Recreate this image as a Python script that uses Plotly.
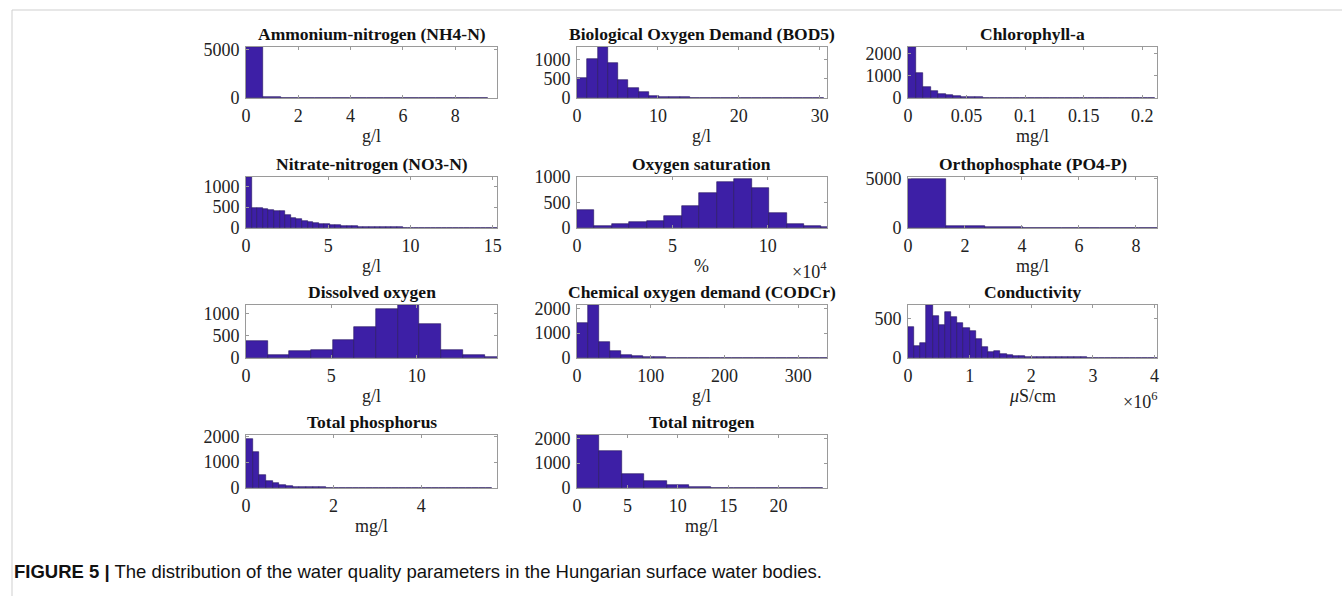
import plotly.graph_objects as go

W, H = 1342, 596

titles = ["Ammonium-nitrogen (NH4-N)", "Biological Oxygen Demand (BOD5)", "Chlorophyll-a",
          "Nitrate-nitrogen (NO3-N)", "Oxygen saturation", "Orthophosphate (PO4-P)",
          "Dissolved oxygen", "Chemical oxygen demand (CODCr)", "Conductivity",
          "Total phosphorus", "Total nitrogen"]
xlabels = ["g/l", "g/l", "mg/l", "g/l", "%", "mg/l", "g/l", "g/l", "<i>μ</i>S/cm", "mg/l", "mg/l"]
x_multipliers = [None, None, None, None, "×10<sup>4</sup>", None, None, None, "×10<sup>6</sup>", None, None]

bin_widths = [0.66, 1.27, 0.0064, 0.34, 0.915, 1.35, 1.27, 15, 0.1, 0.152, 2.22]

counts_nh4 = [5300, 140, 45, 20, 10, 6, 4, 3, 2, 2, 1, 1, 1, 1]
counts_bod5 = [517, 1034, 1336, 922, 474, 267, 147, 60, 35, 22, 15, 10, 6, 4, 3, 2, 2, 1, 1, 1, 0, 0, 0, 1]
counts_chla = [2313, 1150, 490, 330, 195, 120, 80, 55, 40, 30, 22, 15, 10, 8, 6, 5, 3, 2, 2, 1, 1, 1, 1, 0, 0, 1,
               0, 0, 0, 0, 0, 0, 1]
counts_no3 = [1220, 480, 475, 445, 420, 400, 405, 300, 250, 210, 175, 150, 120, 100, 90, 75, 65, 55, 48, 42,
              35, 30, 27, 24, 20, 17, 15, 13, 11, 10, 9, 8, 7, 6, 5, 4, 4, 3, 3, 2, 2, 2, 1, 1, 1]
counts_o2sat = [357, 45, 78, 110, 143, 240, 435, 682, 896, 955, 779, 292, 78, 32, 19]
counts_po4 = [4950, 180, 60, 20, 5, 3, 2]
counts_do = [385, 74, 148, 185, 407, 703, 1096, 1185, 755, 170, 74, 22]
counts_cod = [1400, 2130, 640, 267, 133, 67, 40, 25, 15, 10, 8, 5, 3, 2, 1, 1, 1, 0, 0, 0, 1, 0, 0]
counts_cond = [397, 158, 184, 671, 534, 419, 577, 513, 449, 376, 342, 235, 137, 73, 85, 47, 34, 25, 20, 18,
               15, 15, 12, 18, 10, 8, 8, 10, 8, 6, 5, 5, 4, 4, 3, 3, 3, 2, 2, 2, 1]
counts_tp = [1890, 1410, 520, 290, 180, 100, 70, 50, 40, 30, 25, 20, 15, 12, 10, 8, 7, 6, 5, 4, 3, 3, 2, 2, 2,
             1, 1, 1, 1, 1, 0, 0, 0, 0, 0, 0, 1]
counts_tn = [2130, 1507, 560, 293, 133, 60, 20, 15, 5, 3, 2]

all_counts = [counts_nh4, counts_bod5, counts_chla, counts_no3, counts_o2sat, counts_po4,
              counts_do, counts_cod, counts_cond, counts_tp, counts_tn]

x_max = [9.6, 30.9, 0.2125, 15.26, 13.1, 8.74, 14.7, 339, 4.04, 5.73, 24.8]
y_max = [5300, 1336, 2313, 1220, 1000, 5200, 1185, 2130, 671, 2050, 2130]

x_ticks = [[0, 2, 4, 6, 8], [0, 10, 20, 30], [0, 0.05, 0.1, 0.15, 0.2], [0, 5, 10, 15], [0, 5, 10],
           [0, 2, 4, 6, 8], [0, 5, 10], [0, 100, 200, 300], [0, 1, 2, 3, 4], [0, 2, 4], [0, 5, 10, 15, 20]]
x_ticktext = [None, None, ["0", "0.05", "0.1", "0.15", "0.2"], None, None, None, None, None, None, None, None]
y_ticks = [[0, 5000], [0, 500, 1000], [0, 1000, 2000], [0, 500, 1000], [0, 500, 1000], [0, 5000],
           [0, 500, 1000], [0, 1000, 2000], [0, 500], [0, 1000, 2000], [0, 1000, 2000]]

cols_px = [(246, 497), (577, 827), (908, 1157)]
rows_px = [(47, 98), (177, 228), (305, 358), (435, 488)]

BAR = "#3D1FA6"
EDGE = "#24145e"
AXC = "#9a9a9a"
SERIF = "Liberation Serif, Times New Roman, serif"
TICKSIZE = 18

fig = go.Figure()
annotations = []
layout_axes = {}

for i in range(11):
    r, c = divmod(i, 3)
    x0, x1 = cols_px[c]
    y0, y1 = rows_px[r]
    w = bin_widths[i]
    cnt = all_counts[i]
    centers = [w * (k + 0.5) for k in range(len(cnt))]
    n = i + 1
    xa = "x" if n == 1 else f"x{n}"
    ya = "y" if n == 1 else f"y{n}"
    fig.add_trace(go.Bar(x=centers, y=cnt, width=w, xaxis=xa, yaxis=ya,
                         marker=dict(color=BAR, line=dict(color=EDGE, width=0.6)),
                         showlegend=False))
    xkey = "xaxis" if n == 1 else f"xaxis{n}"
    ykey = "yaxis" if n == 1 else f"yaxis{n}"
    xd = dict(domain=[x0 / W, x1 / W], anchor=ya, range=[0, x_max[i]], automargin=False,
              tickmode="array", tickvals=x_ticks[i],
              showline=True, linecolor=AXC, linewidth=1, mirror="allticks",
              ticks="inside", ticklen=3, tickcolor=AXC, showgrid=False, zeroline=False,
              tickfont=dict(family=SERIF, size=TICKSIZE, color="#222"), ticklabelstandoff=1)
    if x_ticktext[i]:
        xd["ticktext"] = x_ticktext[i]
    yd = dict(domain=[1 - y1 / H, 1 - y0 / H], anchor=xa, range=[0, y_max[i]], automargin=False,
              tickmode="array", tickvals=y_ticks[i],
              showline=True, linecolor=AXC, linewidth=1, mirror="allticks",
              ticks="inside", ticklen=3, tickcolor=AXC, showgrid=False, zeroline=False,
              tickfont=dict(family=SERIF, size=TICKSIZE, color="#222"), ticklabelstandoff=2)
    layout_axes[xkey] = xd
    layout_axes[ykey] = yd
    cx = (x0 + x1) / 2
    annotations.append(dict(text=f"<b>{titles[i]}</b>", x=cx / W, y=1 - (y0 - 1) / H,
                            xref="paper", yref="paper", xanchor="center", yanchor="bottom",
                            showarrow=False, font=dict(family=SERIF, size=17.5, color="#111")))
    annotations.append(dict(text=xlabels[i], x=cx / W, y=1 - (y1 + 38) / H,
                            xref="paper", yref="paper", xanchor="center", yanchor="middle",
                            showarrow=False, font=dict(family=SERIF, size=TICKSIZE, color="#222")))
    if x_multipliers[i]:
        annotations.append(dict(text=x_multipliers[i], x=(x1 + 2) / W, y=1 - (y1 + 42) / H,
                                xref="paper", yref="paper", xanchor="right", yanchor="middle",
                                showarrow=False, font=dict(family=SERIF, size=TICKSIZE, color="#222")))

annotations.append(dict(text="<b>FIGURE 5 |</b> The distribution of the water quality parameters in the Hungarian surface water bodies.",
                        x=12 / W, y=1 - 571 / H, xref="paper", yref="paper", xanchor="left",
                        yanchor="middle", showarrow=False,
                        font=dict(family="Liberation Sans, Arial, sans-serif", size=18.5, color="#111")))

fig.update_layout(**layout_axes)
fig.update_layout(
    width=W, height=H, margin=dict(l=0, r=0, t=0, b=0, autoexpand=False),
    paper_bgcolor="white", plot_bgcolor="white",
    annotations=annotations, bargap=0,
    shapes=[
        dict(type="line", xref="paper", yref="paper", x0=12 / W, x1=12 / W, y0=0, y1=1 - 10 / H,
             line=dict(color="#cfcfcf", width=1)),
        dict(type="line", xref="paper", yref="paper", x0=12 / W, x1=1, y0=1 - 10 / H, y1=1 - 10 / H,
             line=dict(color="#cfcfcf", width=1)),
    ],
)

fig.write_html("out.html", config={"displayModeBar": False},
               post_script="document.body.style.margin='0';document.body.style.overflow='hidden';")
